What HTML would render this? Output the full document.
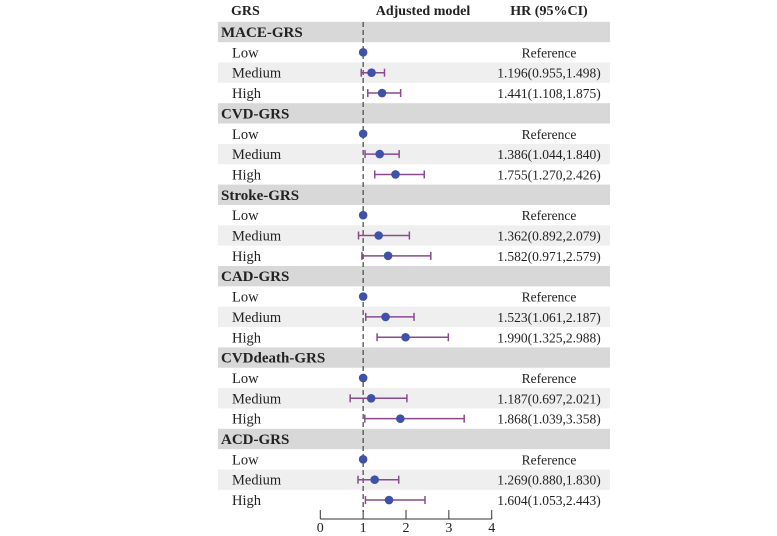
<!DOCTYPE html>
<html><head><meta charset="utf-8"><style>
html,body{margin:0;padding:0;background:#fff;width:777px;height:536px;overflow:hidden}
svg text{font-family:"Liberation Serif",serif;fill:#222}
</style></head><body>
<svg id="chart" width="777" height="536">
<g id="bands"></g>
<g id="labels"></g>
<g id="marks"></g>
<g id="axis"></g>
</svg>
<script>
const rowLabels=["MACE-GRS","Low","Medium","High","CVD-GRS","Low","Medium","High","Stroke-GRS","Low","Medium","High","CAD-GRS","Low","Medium","High","CVDdeath-GRS","Low","Medium","High","ACD-GRS","Low","Medium","High"];
const hrValues=[null,1,1.196,1.441,null,1,1.386,1.755,null,1,1.362,1.582,null,1,1.523,1.990,null,1,1.187,1.868,null,1,1.269,1.604];
const ciLow=[null,null,0.955,1.108,null,null,1.044,1.270,null,null,0.892,0.971,null,null,1.061,1.325,null,null,0.697,1.039,null,null,0.880,1.053];
const ciHigh=[null,null,1.498,1.875,null,null,1.840,2.426,null,null,2.079,2.579,null,null,2.187,2.988,null,null,2.021,3.358,null,null,1.830,2.443];
const hrText=["","Reference","1.196(0.955,1.498)","1.441(1.108,1.875)","","Reference","1.386(1.044,1.840)","1.755(1.270,2.426)","","Reference","1.362(0.892,2.079)","1.582(0.971,2.579)","","Reference","1.523(1.061,2.187)","1.990(1.325,2.988)","","Reference","1.187(0.697,2.021)","1.868(1.039,3.358)","","Reference","1.269(0.880,1.830)","1.604(1.053,2.443)"];
const xTicks=[0,1,2,3,4];

const NS="http://www.w3.org/2000/svg";
const x=v=>320.3+v*42.85;
const y=i=>32+i*20.35;
function mk(tag,attrs,parent,txt){const e=document.createElementNS(NS,tag);for(const k in attrs)e.setAttribute(k,attrs[k]);if(txt!==undefined)e.textContent=txt;document.getElementById(parent).appendChild(e);return e;}

let h=mk('text',{x:231,y:15,'font-size':14,'font-weight':'bold'},'labels','GRS');

h=mk('text',{x:423,y:15,'font-size':14,'font-weight':'bold','text-anchor':'middle'},'labels','Adjusted model');

h=mk('text',{x:549,y:15,'font-size':14,'font-weight':'bold','text-anchor':'middle'},'labels','HR (95%CI)');


rowLabels.forEach((lab,i)=>{
  const grp=hrValues[i]===null;
  const cy=y(i);
  if(grp||lab==="Medium"){
    const r=mk('rect',{x:218,y:cy-10.2,width:392,height:20.35,fill:grp?'#d8d8d8':'#efefef'},'bands');
    
    
  }
  const t=mk('text',{x:grp?221:232,y:cy+5,'font-size':grp?15:14.5,'font-weight':grp?'bold':'normal'},'labels',lab);
  
  
  if(hrText[i]){
    const v=mk('text',{x:549,y:cy+5,'font-size':13.5,'text-anchor':'middle'},'labels',hrText[i]);
    
    
  }
});

const rl=mk('line',{x1:x(1),x2:x(1),y1:22,y2:512,stroke:'#444','stroke-width':1.2,'stroke-dasharray':'5,3'},'marks');



hrValues.forEach((v,i)=>{
  if(v===null)return;
  const cy=y(i);
  if(ciLow[i]!==null){
    const l=mk('line',{x1:x(ciLow[i]),x2:x(ciHigh[i]),y1:cy,y2:cy,stroke:'#8a4a8e','stroke-width':1.5},'marks');
    
    
    [ciLow[i],ciHigh[i]].forEach(c=>{
      const cap=mk('line',{x1:x(c),x2:x(c),y1:cy-4,y2:cy+4,stroke:'#8a4a8e','stroke-width':1.5},'marks');
      
      
    });
  }
  const d=mk('circle',{cx:x(v),cy:cy,r:4.3,fill:'#3f51a8'},'marks');
  
  
});

const ax=mk('line',{x1:x(0),x2:x(4),y1:519,y2:519,stroke:'#333','stroke-width':1},'axis');


xTicks.forEach(t=>{
  const tk=mk('line',{x1:x(t),x2:x(t),y1:510,y2:519,stroke:'#333','stroke-width':1},'axis');
  
  
  const tl=mk('text',{x:x(t),y:532,'font-size':14,'text-anchor':'middle'},'axis',String(t));
  
  
});
</script>
</body></html>
